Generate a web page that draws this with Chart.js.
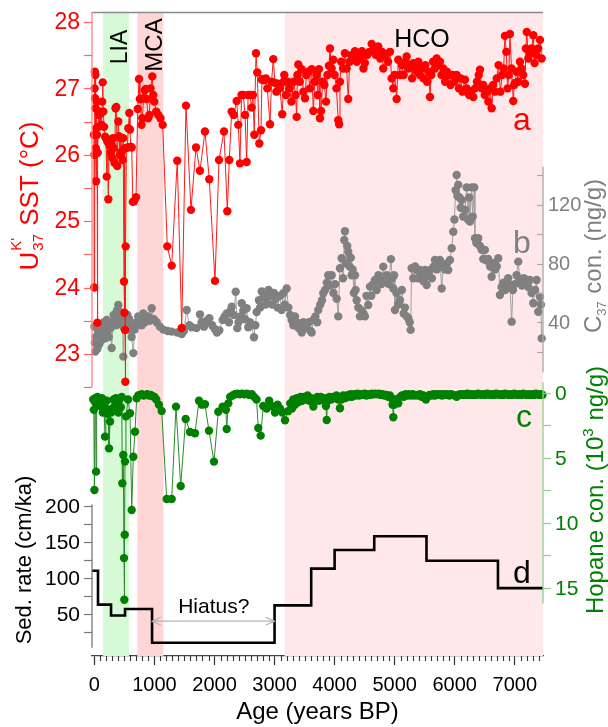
<!DOCTYPE html>
<html>
<head>
<meta charset="utf-8">
<script src="https://cdn.jsdelivr.net/npm/chart.js@4.4.1/dist/chart.umd.min.js"></script>
<style>
  html, body { margin: 0; padding: 0; background: #fff; }
</style>
</head>
<body>
<canvas id="chart" width="608" height="727"></canvas>
<script>
// Holocene record: SST, C37 alkenones, hopanes and sedimentation rate vs age

// a: U37K' SST (degC), [age, value]
const sstPoints = [
  [-8, 26.3], [-4, 24.0], [0, 26.0], [4, 27.0], [8, 27.25], [12, 26.85], [16, 27.2], [20, 26.7],
  [24, 26.1], [28, 25.6], [33, 26.4], [38, 26.8], [44, 26.3], [50, 23.47], [56, 26.03], [62, 26.42],
  [70, 26.65], [80, 26.6], [92, 26.43], [105, 26.65], [120, 26.45], [130, 26.8], [138, 27.09], [148, 26.65],
  [162, 26.42], [180, 26.27], [193, 26.25], [205, 25.67], [215, 26.2], [232, 25.33], [245, 26.15], [258, 26.2],
  [270, 26.03], [285, 26.15], [298, 25.95], [310, 26.25], [322, 26.1], [335, 25.88], [352, 26.7], [365, 26.72],
  [380, 25.83], [398, 26.5], [410, 26.28], [425, 26.0], [440, 26.25], [455, 26.05], [470, 25.92], [480, 26.25],
  [493, 24.09], [500, 23.62], [505, 26.1], [510, 23.36], [515, 22.58], [521, 24.62], [532, 26.1], [548, 26.11],
  [565, 26.4], [581, 26.63], [592, 26.38], [605, 26.12], [621, 26.11], [640, 25.29], [660, 25.3], [693, 25.36],
  [721, 26.69], [743, 27.14], [758, 26.84], [771, 26.84], [785, 26.45], [798, 26.55], [820, 26.85], [840, 26.97],
  [854, 26.99], [870, 26.84], [895, 26.55], [915, 26.6], [935, 27.0], [964, 27.18], [980, 26.9], [997, 26.8],
  [1030, 26.65], [1064, 26.6], [1100, 26.55], [1137, 26.45], [1214, 24.62], [1287, 24.33], [1380, 25.91], [1454, 23.39],
  [1525, 26.74], [1608, 25.17], [1692, 26.11], [1758, 25.76], [1841, 26.35], [1913, 25.63], [2008, 24.1], [2075, 25.92],
  [2158, 26.35], [2213, 25.15], [2246, 25.92], [2286, 26.65], [2320, 26.6], [2369, 26.81], [2396, 26.45], [2424, 25.87],
  [2450, 26.9], [2479, 26.9], [2508, 26.6], [2536, 25.89], [2560, 26.9], [2590, 26.9], [2619, 26.71], [2640, 26.9],
  [2662, 26.3], [2691, 27.53], [2712, 27.24], [2746, 26.17], [2774, 26.37], [2790, 27.13], [2802, 27.14], [2830, 27.12],
  [2857, 27.15], [2880, 27.0], [2924, 26.46], [2950, 27.1], [2979, 27.44], [3007, 27.08], [3030, 26.95], [3057, 27.07],
  [3090, 27.0], [3128, 26.61], [3150, 27.1], [3162, 27.2], [3190, 26.9], [3220, 27.1], [3250, 27.0], [3280, 26.8],
  [3320, 27.1], [3350, 26.9], [3368, 26.57], [3380, 27.2], [3395, 27.36], [3420, 27.1], [3450, 27.29], [3480, 26.95],
  [3507, 26.85], [3530, 27.2], [3560, 27.25], [3590, 27.0], [3620, 27.29], [3645, 26.66], [3670, 27.1], [3700, 27.2],
  [3720, 26.9], [3740, 27.29], [3756, 26.55], [3775, 26.66], [3800, 27.1], [3830, 27.05], [3856, 26.8], [3880, 27.2],
  [3905, 27.34], [3923, 27.6], [3950, 27.3], [3978, 27.43], [4000, 27.2], [4030, 27.0], [4061, 26.52], [4075, 26.46],
  [4089, 27.1], [4110, 27.4], [4140, 27.3], [4172, 27.53], [4200, 27.3], [4227, 26.84], [4250, 27.4], [4280, 27.5],
  [4310, 27.45], [4339, 27.56], [4370, 27.4], [4400, 27.5], [4430, 27.45], [4455, 27.56], [4480, 27.3], [4505, 27.38],
  [4540, 27.5], [4580, 27.55], [4617, 27.67], [4650, 27.6], [4690, 27.5], [4727, 27.63], [4760, 27.45], [4790, 27.55],
  [4810, 27.3], [4850, 27.5], [4890, 27.4], [4922, 27.55], [4950, 27.15], [4977, 27.0], [5000, 27.2], [5033, 26.84],
  [5060, 27.43], [5090, 27.2], [5120, 27.35], [5150, 27.2], [5180, 27.4], [5200, 27.48], [5230, 27.3], [5260, 27.35],
  [5290, 27.15], [5310, 27.38], [5340, 27.3], [5370, 27.25], [5393, 27.4], [5420, 27.2], [5450, 27.3], [5480, 27.15],
  [5510, 27.35], [5540, 27.1], [5570, 27.25], [5588, 26.87], [5610, 27.2], [5640, 27.4], [5670, 27.3], [5700, 27.45],
  [5730, 27.35], [5754, 27.4], [5780, 27.2], [5810, 27.3], [5840, 27.1], [5870, 27.25], [5900, 27.2], [5930, 27.05],
  [5960, 27.2], [5990, 27.1], [6032, 27.2], [6070, 27.0], [6100, 27.15], [6130, 26.95], [6170, 27.13], [6200, 27.0],
  [6240, 26.9], [6270, 26.95], [6309, 26.87], [6340, 27.0], [6370, 27.1], [6400, 27.2], [6420, 27.28], [6450, 27.0],
  [6475, 27.05], [6500, 26.9], [6532, 26.95], [6560, 26.8], [6590, 27.0], [6615, 26.7], [6640, 27.05], [6670, 26.95],
  [6700, 27.15], [6730, 27.35], [6760, 26.95], [6790, 27.2], [6815, 27.3], [6836, 27.79], [6860, 27.55], [6880, 27.0],
  [6900, 27.2], [6920, 27.82], [6945, 27.3], [6975, 26.81], [6990, 27.05], [7003, 27.08], [7030, 27.25], [7060, 27.1],
  [7086, 27.4], [7110, 27.3], [7140, 27.2], [7170, 27.07], [7185, 27.6], [7200, 27.85], [7225, 27.45], [7253, 27.53],
  [7280, 27.6], [7308, 27.8], [7330, 27.38], [7360, 27.5], [7390, 27.6], [7420, 27.73], [7448, 27.45]
];

// b: C37 alkenone concentration (ng/g)
const c37Points = [
  [0, 37], [8, 26], [15, 20], [25, 30], [38, 28], [50, 22], [65, 33], [80, 25], [93, 30], [110, 36],
  [125, 28], [143, 33], [160, 40], [175, 29], [190, 38], [205, 41.6], [220, 34], [240, 30], [255, 40], [270, 36],
  [288, 22.5], [305, 38], [320, 45], [343, 41.6], [360, 38], [375, 48], [398, 51.8], [412, 44], [426, 47], [440, 40],
  [455, 44], [470, 38], [481, 16.6], [495, 36], [510, 42], [525, 38], [538, 40], [550, 45], [564, 35], [580, 42],
  [600, 38], [620, 30], [648, 19], [670, 35], [690, 38], [704, 40], [730, 44], [760, 42], [790, 38], [814, 46],
  [840, 40], [870, 43], [897, 44], [920, 41], [954, 49.5], [990, 42], [1037, 40], [1090, 37], [1147, 35], [1220, 34],
  [1287, 33.6], [1380, 33], [1454, 32], [1490, 34], [1537, 48.4], [1580, 38], [1620, 36.6], [1700, 36], [1758, 45.4], [1790, 40],
  [1825, 37], [1870, 41], [1913, 42.7], [1960, 38], [2003, 35.4], [2040, 33], [2080, 34.5], [2136, 41.6], [2170, 44], [2203, 46],
  [2240, 40], [2270, 48], [2286, 50.6], [2320, 45], [2353, 60.8], [2379, 36], [2400, 40], [2430, 44], [2453, 53], [2480, 48],
  [2510, 42], [2536, 49.5], [2562, 36.6], [2590, 40], [2620, 38], [2657, 29.8], [2680, 38], [2702, 47], [2740, 55], [2760, 50],
  [2786, 61], [2820, 58], [2850, 52], [2869, 56], [2900, 62], [2930, 58], [2960, 52], [2990, 60], [3020, 56], [3050, 50],
  [3090, 58], [3118, 48.4], [3145, 59.8], [3170, 52], [3202, 63], [3230, 50], [3260, 45], [3285, 41.6], [3312, 38], [3340, 44],
  [3370, 40], [3400, 36], [3423, 37], [3452, 33], [3480, 40], [3510, 36], [3535, 36], [3570, 40], [3600, 34], [3618, 33],
  [3645, 41.6], [3680, 44], [3710, 40], [3728, 48.4], [3760, 52], [3790, 55], [3811, 59.8], [3840, 62], [3870, 67], [3894, 72],
  [3920, 65], [3951, 72], [3980, 60], [4010, 66], [4034, 56], [4061, 44], [4089, 76.8], [4117, 83.6], [4140, 70], [4161, 96],
  [4172, 102], [4190, 80], [4210, 92], [4227, 88], [4250, 78], [4270, 84], [4284, 72], [4300, 76], [4320, 60], [4339, 72],
  [4350, 62], [4367, 55], [4395, 50], [4422, 44], [4450, 48], [4480, 46], [4505, 44], [4530, 58], [4560, 51.8], [4589, 64.3],
  [4610, 58], [4640, 66], [4672, 68.8], [4700, 62], [4730, 72], [4755, 68.8], [4780, 66], [4810, 77.9], [4840, 68], [4867, 72],
  [4900, 66], [4938, 83], [4960, 70], [4977, 63], [4990, 72], [5005, 48.4], [5030, 60], [5060, 52], [5088, 55], [5120, 62],
  [5150, 46], [5171, 50], [5200, 44], [5227, 42.7], [5250, 40], [5266, 34.8], [5283, 76.8], [5310, 70], [5340, 78], [5366, 75.6],
  [5390, 70], [5421, 75.6], [5450, 72], [5480, 68], [5504, 75.6], [5533, 65.4], [5560, 72], [5588, 75.6], [5620, 70], [5650, 78],
  [5671, 82.4], [5700, 76], [5730, 80], [5754, 82.4], [5783, 63], [5809, 78], [5840, 76], [5870, 80], [5892, 75.6], [5921, 82.4],
  [5949, 90.4], [5976, 101.7], [5995, 110], [6016, 130], [6032, 140.4], [6045, 126], [6059, 133.6], [6080, 125], [6100, 118], [6115, 123.3],
  [6140, 112], [6170, 116.5], [6199, 131.9], [6220, 110], [6240, 125], [6254, 108.6], [6282, 131.9], [6300, 112], [6325, 131.9], [6337, 97.2],
  [6360, 94], [6392, 97.2], [6420, 92], [6449, 89.3], [6475, 83.1], [6503, 89.3], [6530, 82], [6558, 83.1], [6590, 78], [6615, 71],
  [6642, 80.2], [6670, 76], [6700, 78], [6725, 83.6], [6753, 58.6], [6780, 64], [6810, 67], [6840, 62], [6865, 65.4], [6890, 70],
  [6920, 65.4], [6948, 40.4], [6970, 62], [7000, 66], [7030, 72], [7058, 81.3], [7086, 68.8], [7120, 65], [7150, 70], [7180, 66],
  [7198, 68.8], [7225, 64], [7253, 68.8], [7280, 60], [7308, 53], [7340, 62], [7364, 68.8], [7391, 47.2], [7419, 57.4], [7435, 52],
  [7448, 29]
];

// c: hopane concentration (10^3 ng/g), plotted on a reversed axis
const hopanePoints = [
  [-20, 0.5], [-10, 1.3], [0, 7.46], [10, 0.4], [20, 0.8], [28, 6.05], [38, 0.54], [50, 0.3], [65, 0.6], [80, 0.5],
  [95, 1.0], [110, 0.8], [125, 0.4], [140, 1.5], [158, 0.9], [177, 3.36], [190, 1.2], [205, 0.6], [220, 1.6], [235, 1.4],
  [243, 4.26], [260, 2.2], [280, 1.5], [300, 1.2], [320, 0.5], [340, 1.0], [360, 0.4], [380, 0.9], [400, 1.5], [420, 0.5],
  [440, 1.1], [455, 0.3], [465, 6.95], [481, 4.77], [493, 12.7], [498, 15.9], [505, 10.9], [510, 5.28], [525, 1.8], [560, 0.5],
  [593, 1.56], [621, 9.0], [648, 4.9], [676, 2.98], [704, 0.4], [730, 0.2], [760, 0.15], [790, 0.1], [820, 0.2], [850, 0.15],
  [880, 0.1], [910, 0.2], [940, 0.15], [970, 0.25], [1000, 0.3], [1030, 0.5], [1075, 0.9], [1120, 1.38], [1204, 8.15], [1287, 8.15],
  [1359, 1.05], [1437, 7.15], [1520, 2.0], [1592, 3.0], [1675, 3.1], [1742, 0.6], [1790, 0.9], [1841, 0.87], [1908, 2.9], [1991, 5.28],
  [2063, 1.44], [2136, 1.05], [2190, 1.3], [2203, 2.77], [2230, 0.8], [2260, 0.3], [2300, 0.2], [2340, 0.1], [2380, 0.05], [2420, 0.1],
  [2460, 0.05], [2500, 0.1], [2540, 0.05], [2580, 0.15], [2620, 0.1], [2660, 0.3], [2700, 0.5], [2729, 2.7], [2769, 3.28], [2812, 1.0],
  [2869, 1.2], [2910, 0.6], [2950, 1.0], [3007, 1.5], [3050, 0.9], [3090, 1.2], [3130, 1.5], [3174, 2.1], [3224, 1.4], [3260, 0.8],
  [3290, 1.2], [3312, 0.5], [3340, 0.9], [3370, 0.4], [3400, 0.7], [3430, 0.3], [3460, 0.6], [3490, 0.3], [3520, 0.5], [3550, 0.2],
  [3580, 0.6], [3610, 0.4], [3646, 1.05], [3680, 0.5], [3710, 0.3], [3740, 0.6], [3770, 0.3], [3800, 0.5], [3830, 0.4], [3855, 1.0],
  [3868, 2.08], [3880, 0.6], [3910, 0.3], [3940, 0.5], [3970, 0.3], [4000, 0.4], [4030, 0.2], [4060, 0.5], [4089, 1.18], [4110, 0.5],
  [4140, 0.2], [4170, 0.4], [4200, 0.2], [4230, 0.3], [4260, 0.1], [4290, 0.3], [4320, 0.1], [4350, 0.2], [4380, 0.05], [4410, 0.2],
  [4440, 0.1], [4470, 0.15], [4500, 0.05], [4530, 0.2], [4560, 0.1], [4590, 0.15], [4620, 0.05], [4650, 0.1], [4680, 0.05], [4710, 0.1],
  [4740, 0.05], [4770, 0.15], [4800, 0.1], [4830, 0.2], [4860, 0.15], [4890, 0.3], [4920, 0.2], [4950, 0.4], [4965, 0.9], [4977, 1.87],
  [4990, 0.9], [5020, 0.5], [5060, 0.8], [5090, 0.3], [5120, 0.2], [5150, 0.3], [5180, 0.1], [5210, 0.2], [5240, 0.1], [5270, 0.2],
  [5300, 0.1], [5330, 0.2], [5360, 0.15], [5390, 0.2], [5420, 0.1], [5450, 0.3], [5480, 0.2], [5510, 0.4], [5521, 0.5], [5550, 0.3],
  [5580, 0.15], [5610, 0.2], [5640, 0.1], [5670, 0.2], [5700, 0.1], [5730, 0.15], [5760, 0.1], [5790, 0.2], [5820, 0.1], [5850, 0.15],
  [5880, 0.1], [5910, 0.2], [5940, 0.1], [5970, 0.15], [6000, 0.2], [6032, 0.3], [6060, 0.15], [6090, 0.1], [6120, 0.15], [6150, 0.1],
  [6180, 0.15], [6210, 0.05], [6240, 0.15], [6270, 0.1], [6300, 0.15], [6330, 0.1], [6360, 0.15], [6390, 0.05], [6420, 0.1], [6450, 0.15],
  [6480, 0.1], [6510, 0.15], [6540, 0.05], [6570, 0.1], [6600, 0.15], [6630, 0.1], [6660, 0.15], [6690, 0.05], [6720, 0.1], [6750, 0.15],
  [6780, 0.1], [6810, 0.15], [6840, 0.05], [6870, 0.1], [6900, 0.15], [6930, 0.1], [6960, 0.15], [6990, 0.05], [7020, 0.1], [7050, 0.15],
  [7080, 0.1], [7110, 0.15], [7140, 0.05], [7170, 0.1], [7200, 0.15], [7230, 0.1], [7260, 0.15], [7290, 0.1], [7320, 0.15], [7350, 0.05],
  [7380, 0.1], [7410, 0.15], [7440, 0.1], [7460, 0.15]
];

// d: sedimentation rate (cm/ka), each value holds until the next age
const sedSteps = [
  [-40, 110], [60, 63], [277, 48], [510, 57], [960, 10], [3000, 62], [3610, 113],
  [4000, 139], [4660, 158], [5530, 124], [6720, 86], [7470, 86]
];

// climate periods (age ranges)
const periods = [
  { name: 'LIA', from: 145, to: 576, color: 'rgb(214,249,214)' },
  { name: 'MCA', from: 714, to: 1148, color: 'rgb(255,214,214)' },
  { name: 'HCO', from: 3168, to: 7470, color: 'rgb(255,232,234)' }
];
const hiatus = [960, 3000];

// tick values
const ageMajor = [0, 1000, 2000, 3000, 4000, 5000, 6000, 7000];
const sstMajor = [23, 24, 25, 26, 27, 28];
const sstMinor = [22.5, 23.5, 24.5, 25.5, 26.5, 27.5];
const c37Major = [40, 80, 120];
const c37Minor = [20, 60, 100, 140];
const hopMajor = [0, 5, 10, 15];
const hopMinor = [2.5, 7.5, 12.5];
const sedMajor = [50, 100, 150, 200];
const sedMinor = [25, 75, 125, 175];

const FONT = '"Liberation Sans", Arial, sans-serif';
Chart.defaults.font.family = FONT;

const toXY = arr => arr.map(p => ({ x: p[0], y: p[1] }));

// partial y axes drawn against the (hidden) library scales
const axisDefs = [
  { id: 'ySST', side: 'left', from: 28.15, to: 22.5, major: sstMajor, minor: sstMinor, inward: false,
    line: '#ff8080', tick: '#ff6666', label: '#ff0000', size: 23, len: 8 },
  { id: 'ySed', side: 'left', from: 202, to: 3, major: sedMajor, minor: sedMinor, inward: false,
    line: '#777', tick: '#777', label: '#000', size: 21, len: 8 },
  { id: 'yC37', side: 'right', from: 146, to: 6, major: c37Major, minor: c37Minor, inward: true,
    line: '#a8a8a8', tick: '#a8a8a8', label: '#808080', size: 20, len: 6 },
  { id: 'yHop', side: 'right', from: -0.8, to: 16.2, major: hopMajor, minor: hopMinor, inward: false,
    line: '#8fcf8f', tick: '#8fcf8f', label: '#008000', size: 21, len: 8 }
];

function drawAxis(chart, a) {
  const ctx = chart.ctx;
  const s = chart.scales[a.id];
  const area = chart.chartArea;
  const x = a.side === 'left' ? area.left : area.right;
  const out = a.side === 'left' ? -1 : 1;
  const dir = a.inward ? -out : out;
  ctx.save();
  ctx.strokeStyle = a.line;
  ctx.lineWidth = 1.3;
  ctx.beginPath();
  ctx.moveTo(x, s.getPixelForValue(a.from));
  ctx.lineTo(x, s.getPixelForValue(a.to));
  ctx.stroke();
  ctx.strokeStyle = a.tick;
  ctx.lineWidth = 1.2;
  a.major.concat(a.minor).forEach(v => {
    const y = Math.round(s.getPixelForValue(v)) + 0.5;
    ctx.beginPath();
    ctx.moveTo(x, y);
    ctx.lineTo(x + dir * a.len, y);
    ctx.stroke();
  });
  ctx.fillStyle = a.label;
  ctx.font = a.size + 'px ' + FONT;
  ctx.textBaseline = 'middle';
  ctx.textAlign = a.side === 'left' ? 'right' : 'left';
  const off = a.inward ? 5 : a.len + 4;
  a.major.forEach(v => {
    ctx.fillText(String(v), x + out * off, s.getPixelForValue(v) + 1);
  });
  ctx.restore();
}

// rotated title made of [text, size, baseline shift, color] parts
function drawRotated(ctx, cx, cy, parts, color) {
  ctx.save();
  ctx.translate(cx, cy);
  ctx.rotate(-Math.PI / 2);
  ctx.fillStyle = color;
  ctx.textBaseline = 'alphabetic';
  ctx.textAlign = 'left';
  let total = 0;
  parts.forEach(p => { ctx.font = p[1] + 'px ' + FONT; p.w = p[3] ? 0 : ctx.measureText(p[0]).width + (p[4] || 0); total += p.w; });
  let x = -total / 2;
  parts.forEach(p => {
    ctx.font = p[1] + 'px ' + FONT;
    ctx.fillText(p[0], x + (p[5] || 0), p[2]);
    x += p.w;
  });
  ctx.restore();
}

const decor = {
  id: 'decor',
  beforeDatasetsDraw(chart) {
    const ctx = chart.ctx, a = chart.chartArea, xs = chart.scales.x;
    ctx.save();
    periods.forEach(p => {
      const x0 = xs.getPixelForValue(p.from), x1 = Math.min(xs.getPixelForValue(p.to), a.right);
      ctx.fillStyle = p.color;
      ctx.fillRect(x0, a.top, x1 - x0, a.bottom - a.top);
    });
    ctx.restore();
  },
  afterDatasetsDraw(chart) {
    const ctx = chart.ctx, a = chart.chartArea, xs = chart.scales.x;
    const sed = chart.scales.ySed;
    ctx.save();
    // top frame line
    ctx.strokeStyle = '#8a8a8a';
    ctx.lineWidth = 1.3;
    ctx.beginPath();
    ctx.moveTo(a.left, a.top + 0.5);
    ctx.lineTo(a.right, a.top + 0.5);
    ctx.stroke();
    // minor x ticks every 100 years
    ctx.strokeStyle = '#333';
    ctx.lineWidth = 1.1;
    for (let v = 100; v <= 7400; v += 100) {
      if (v % 1000 === 0) continue;
      const x = Math.round(xs.getPixelForValue(v)) + 0.5;
      ctx.beginPath();
      ctx.moveTo(x, a.bottom);
      ctx.lineTo(x, a.bottom + 5);
      ctx.stroke();
    }
    ctx.restore();

    axisDefs.forEach(d => drawAxis(chart, d));

    // hiatus arrow
    const hx0 = xs.getPixelForValue(hiatus[0]), hx1 = xs.getPixelForValue(hiatus[1]);
    const hy = sed.getPixelForValue(40);
    ctx.save();
    ctx.strokeStyle = '#b5b5b5';
    ctx.lineWidth = 1.2;
    ctx.beginPath();
    ctx.moveTo(hx0, hy); ctx.lineTo(hx1, hy);
    ctx.moveTo(hx0 + 9, hy - 4); ctx.lineTo(hx0, hy); ctx.lineTo(hx0 + 9, hy + 4);
    ctx.moveTo(hx1 - 9, hy - 4); ctx.lineTo(hx1, hy); ctx.lineTo(hx1 - 9, hy + 4);
    ctx.stroke();
    ctx.fillStyle = '#000';
    ctx.font = '21px ' + FONT;
    ctx.textAlign = 'center';
    ctx.textBaseline = 'alphabetic';
    ctx.fillText('Hiatus?', (hx0 + hx1) / 2 + 0.5, hy - 8);

    // period names
    ctx.font = '25px ' + FONT;
    ctx.fillText('HCO', 422, 47);
    ctx.restore();
    drawRotated(ctx, 127, 47, [['LIA', 23, 0]], '#000');
    drawRotated(ctx, 162, 45, [['MCA', 24, 0]], '#000');

    // panel letters
    ctx.save();
    ctx.font = '32px ' + FONT;
    ctx.textAlign = 'center';
    ctx.textBaseline = 'alphabetic';
    ctx.fillStyle = '#ff0000'; ctx.fillText('a', 522, 130);
    ctx.fillStyle = '#808080'; ctx.fillText('b', 522, 253);
    ctx.fillStyle = '#008000'; ctx.fillText('c', 524, 427);
    ctx.fillStyle = '#000'; ctx.fillText('d', 522, 583);
    ctx.restore();

    // axis titles
    drawRotated(ctx, 38, 196, [
      ['U', 26, 0, 0, 0], ["K'", 15, -17, 1, 0, 1], ['37', 15, 5, 0, 2, 1], [' SST (\u00B0C)', 26, 0]
    ], '#ff0000');
    drawRotated(ctx, 31, 560, [['Sed. rate (cm/ka)', 22, 0]], '#000');
    drawRotated(ctx, 601, 256, [['C', 24, 0], ['37', 13, 5, 0, 1], [' con. (ng/g)', 24, 0]], '#808080');
    drawRotated(ctx, 603, 490, [['Hopane con. (10', 24, 0], ['3', 15, -10, 0, 1], [' ng/g)', 24, 0]], '#008000');
  }
};

new Chart(document.getElementById('chart'), {
  type: 'scatter',
  data: {
    datasets: [
      { label: 'SST', data: toXY(sstPoints), yAxisID: 'ySST', showLine: true,
        borderColor: '#ff1a1a', borderWidth: 1, pointRadius: 4.2, pointBackgroundColor: '#ff0000',
        pointBorderWidth: 0, clip: false },
      { label: 'C37', data: toXY(c37Points), yAxisID: 'yC37', showLine: true,
        borderColor: '#a0a0a0', borderWidth: 1, pointRadius: 4.2, pointBackgroundColor: '#808080',
        pointBorderWidth: 0, clip: false },
      { label: 'Hopane', data: toXY(hopanePoints), yAxisID: 'yHop', showLine: true,
        borderColor: '#2a8a2a', borderWidth: 1, pointRadius: 4.2, pointBackgroundColor: '#008000',
        pointBorderWidth: 0, clip: false },
      { label: 'Sed. rate', data: toXY(sedSteps), yAxisID: 'ySed', showLine: true, stepped: 'before',
        borderColor: '#000', borderWidth: 2.6, pointRadius: 0, clip: false }
    ]
  },
  options: {
    responsive: false,
    animation: false,
    layout: { padding: { left: 92, right: 65, top: 12, bottom: 0 } },
    plugins: { legend: { display: false }, tooltip: { enabled: false } },
    scales: {
      x: {
        type: 'linear', position: 'bottom', min: -40, max: 7470,
        afterFit: s => { s.height = 71; },
        afterBuildTicks: s => { s.ticks = ageMajor.map(v => ({ value: v })); },
        ticks: { color: '#000', font: { size: 20 }, padding: 8, autoSkip: false, maxRotation: 0,
                 callback: v => String(v) },
        grid: { drawOnChartArea: false, tickLength: 9, tickColor: '#333', tickWidth: 1.2 },
        border: { color: '#444', width: 1.3 },
        title: { display: true, text: 'Age (years BP)', color: '#000', font: { size: 24 },
                 padding: { top: 0, bottom: 0 } }
      },
      ySST: { type: 'linear', display: false, min: 18.45, max: 28.15 },
      yC37: { type: 'linear', display: false, min: -187.4, max: 251.4 },
      yHop: { type: 'linear', display: false, min: -29.3, max: 20.23, reverse: true },
      ySed: { type: 'linear', display: false, min: -8.3, max: 886 }
    }
  },
  plugins: [decor]
});
</script>
</body>
</html>
